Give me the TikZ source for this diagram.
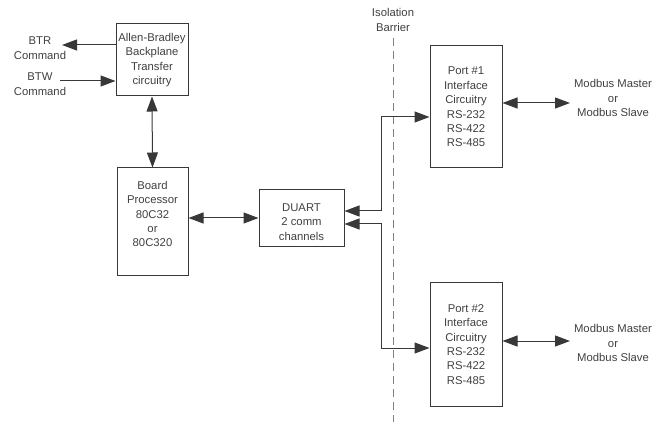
\documentclass[tikz,border=0pt]{standalone}
\usepackage{fontspec}
\setmainfont{Liberation Sans}
\usetikzlibrary{arrows.meta}
\definecolor{txt}{HTML}{404040}
\definecolor{ln}{HTML}{383838}
\tikzset{
  box/.style={draw=ln, line width=1pt, inner sep=0pt, align=center, text=txt,
    font=\fontsize{11.3}{14.4}\selectfont},
  lbl/.style={align=center, text=txt, inner sep=0pt, font=\fontsize{11.3}{14.4}\selectfont},
  conn/.style={draw=ln, line width=1pt, -{Triangle[length=15pt,width=11pt]}},
  dconn/.style={draw=ln, line width=1pt, {Triangle[length=15pt,width=11pt]}-{Triangle[length=15pt,width=11pt]}},
  barrier/.style={draw=gray, line width=0.8pt, dash pattern=on 8pt off 5pt}
}
\begin{document}
\begin{tikzpicture}[x=1pt,y=-1pt]
\useasboundingbox (0,0) rectangle (655,427);
\node[box, minimum width=72pt, minimum height=72pt] (ab) at (152,60) {Allen-Bradley\\Backplane\\Transfer\\circuitry};
\node[box, minimum width=71pt, minimum height=108pt] (board) at (152.5,222) {};
\node[lbl] (boardtext) at (152.5,214) {Board\\Processor\\80C32\\or\\80C320};
\node[box, minimum width=85pt, minimum height=57pt] (duart) at (301.5,218.5) {};
\node[lbl] (duarttext) at (301.5,222) {DUART\\2 comm\\channels};
\node[box, minimum width=72pt, minimum height=122pt] (port1) at (466,107) {Port \#1\\Interface\\Circuitry\\RS-232\\RS-422\\RS-485};
\node[box, minimum width=72pt, minimum height=123pt] (port2) at (466,344.5) {Port \#2\\Interface\\Circuitry\\RS-232\\RS-422\\RS-485};
\node[lbl] (btr) at (40,48) {BTR\\Command};
\node[lbl] (btw) at (40,84) {BTW\\Command};
\node[lbl] (mod1) at (613,98) {Modbus Master\\or\\Modbus Slave};
\node[lbl] (mod2) at (613,343) {Modbus Master\\or\\Modbus Slave};
\node[lbl] (iso) at (393,20) {Isolation\\Barrier};
\coordinate (btrend) at (62,45);
\coordinate (btwstart) at (60,81);
\coordinate (m1) at (570,103);
\coordinate (m2) at (570,341);
\coordinate (isotop) at (393,38);
\coordinate (isobot) at (393,422);
\coordinate (j1) at (381,211);
\coordinate (j2) at (381,224);
\draw[barrier] (isotop) -- (isobot);
\draw[conn] (ab.west |- btrend) -- (btrend);
\draw[conn] (btwstart) -- (ab.west |- btwstart);
\draw[dconn] (ab.south) -- (board.north);
\draw[dconn] (board.east |- 0,218) -- (duart.west |- 0,218);
\draw[dconn] (duart.east |- j1) -- (j1) -- (j1 |- 0,117) -- (port1.west |- 0,117);
\draw[dconn] (duart.east |- j2) -- (j2) -- (j2 |- 0,348) -- (port2.west |- 0,348);
\draw[dconn] (port1.east |- m1) -- (m1);
\draw[dconn] (port2.east |- m2) -- (m2);
\end{tikzpicture}
\end{document}
